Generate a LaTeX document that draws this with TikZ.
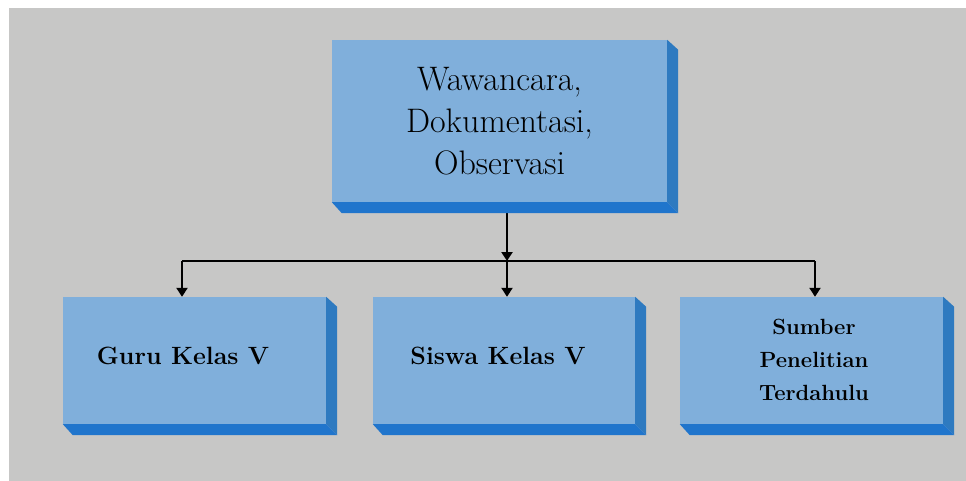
\documentclass[tikz,border=0pt]{standalone}
\usetikzlibrary{arrows.meta,calc}
\definecolor{bggray}{RGB}{199,199,198}
\definecolor{front}{RGB}{128,175,219}
\definecolor{sidecol}{RGB}{46,122,192}
\definecolor{botcol}{RGB}{32,117,204}
\tikzset{
  facebox/.style={fill=front, inner sep=0pt, align=center},
  conn/.style={line width=2.2pt, black},
  arr/.style={conn, -{Triangle[length=9pt,width=11pt]}},
}
\begin{document}
\begin{tikzpicture}[x=1pt,y=-1pt]
\useasboundingbox (0,0) rectangle (966,481);
\fill[white] (0,0) rectangle (966,481);
\fill[bggray] (9,8) rectangle (966,481);

% nodes
\node[facebox, minimum width=335pt, minimum height=162pt,
      font=\fontsize{34}{42}\selectfont] (top) at (499.5,121) {Wawancara,\\Dokumentasi,\\Observasi};
\node[facebox, minimum width=263pt, minimum height=127pt] (guru) at (194.5,360.5) {};
\node[facebox, minimum width=262pt, minimum height=127pt] (siswa) at (504,360.5) {};
\node[facebox, minimum width=263pt, minimum height=127pt] (sumber) at (811.5,360.5) {};
\node[font=\fontsize{25}{30}\selectfont\bfseries, inner sep=0pt] (gurut) at (183,356) {Guru Kelas V};
\node[font=\fontsize{25}{30}\selectfont\bfseries, inner sep=0pt] (siswat) at (498,356) {Siswa Kelas V};
\node[font=\fontsize{22}{33}\selectfont\bfseries, align=center, inner sep=0pt] (sumbert) at (814,360) {Sumber\\Penelitian\\Terdahulu};

% connectors
\coordinate (hub) at (507,261);
\coordinate (L) at (182,261);
\coordinate (R) at (815,261);
\draw[arr] (top.south -| hub) -- (hub);
\draw[conn] (L) -- (R);
\draw[arr] (L) -- (L |- guru.north);
\draw[arr] (hub) -- (hub |- siswa.north);
\draw[arr] (R) -- (R |- sumber.north);

% 3D shadows
\foreach \b in {top,guru,siswa,sumber}{
  \fill[sidecol] (\b.north east) -- ++(11,10) -- ($(\b.south east)+(11,11)$) -- (\b.south east) -- cycle;
  \fill[botcol] (\b.south west) -- ++(10,11) -- ($(\b.south east)+(11,11)$) -- (\b.south east) -- cycle;
}
\end{tikzpicture}
\end{document}
